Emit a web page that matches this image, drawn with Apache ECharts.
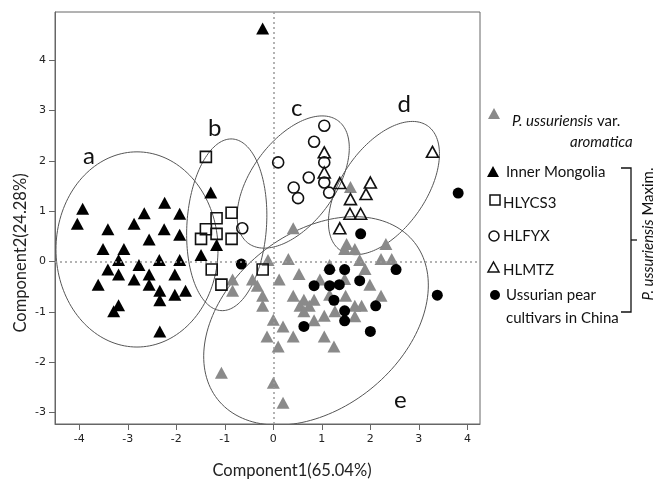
<!DOCTYPE html>
<html><head><meta charset="utf-8">
<script src="https://cdn.jsdelivr.net/npm/echarts@6/dist/echarts.min.js"></script>
<style>html,body{margin:0;padding:0;background:#fff}#c{width:667px;height:483px}</style>
</head><body><div id="c"></div>
<script>
const xTicks = [-4,-3,-2,-1,0,1,2,3,4];
const yTicks = [-3,-2,-1,0,1,2,3,4];

const aromatica = [[0.41,0.66],[1.59,1.48],[1.51,0.35],[2.32,0.35],[1.47,0.25],[1.68,0.25],[0.31,0.05],[-0.11,0.03],[1.78,0.03],[2.22,0.05],[2.44,0.05],[1.16,-0.07],[1.89,-0.15],[0.53,-0.25],[0.12,-0.36],[-0.43,-0.36],[-0.84,-0.36],[0.96,-0.36],[1.47,-0.35],[1.99,-0.46],[-0.84,-0.58],[-0.33,-0.48],[-0.22,-0.68],[-0.22,-0.88],[0.41,-0.68],[0.63,-0.76],[0.84,-0.76],[1.16,-0.66],[1.49,-0.68],[2.22,-0.68],[0.55,-0.88],[0.74,-0.88],[0.63,-0.99],[1.05,-1.08],[1.27,-0.99],[1.68,-0.88],[1.82,-0.88],[1.68,-1.09],[0.84,-1.17],[0.00,-1.16],[0.20,-1.29],[0.41,-1.49],[-0.13,-1.49],[1.05,-1.49],[0.10,-1.69],[1.25,-1.69],[-1.07,-2.21],[0.00,-2.41],[0.20,-2.81]];
const innerMongolia = [[-3.93,1.05],[-4.04,0.75],[-3.41,0.64],[-2.87,0.75],[-2.66,0.96],[-2.24,1.17],[-1.93,0.95],[-2.25,0.64],[-1.93,0.53],[-2.56,0.44],[-3.51,0.25],[-3.08,0.25],[-3.19,0.03],[-2.77,-0.07],[-2.35,0.03],[-1.93,0.03],[-3.41,-0.16],[-3.19,-0.26],[-2.87,-0.36],[-2.56,-0.26],[-2.56,-0.46],[-2.03,-0.26],[-3.61,-0.46],[-2.34,-0.58],[-2.34,-0.77],[-2.03,-0.66],[-1.81,-0.58],[-3.19,-0.87],[-3.29,-0.99],[-2.34,-1.39],[-1.29,1.37],[-1.17,0.33],[-1.49,0.13],[-0.22,4.63]];
const hlycs3 = [[-1.39,2.08],[-0.86,0.97],[-1.17,0.86],[-1.39,0.64],[-1.17,0.55],[-1.49,0.45],[-0.86,0.45],[-1.27,-0.16],[-1.07,-0.46],[-0.22,-0.16]];
const hlfyx = [[1.05,2.70],[0.84,2.38],[0.10,1.97],[1.05,1.97],[0.73,1.67],[1.05,1.57],[0.42,1.47],[1.15,1.37],[0.51,1.26],[-0.64,0.66]];
const hlmtz = [[1.05,2.17],[1.05,1.77],[1.37,1.56],[2.00,1.57],[1.59,1.24],[1.91,1.34],[1.58,0.95],[1.80,0.95],[1.37,0.66],[3.28,2.18]];
const cultivars = [[3.81,1.36],[1.80,0.55],[-0.66,-0.05],[1.16,-0.16],[1.47,-0.16],[2.53,-0.16],[1.78,-0.38],[0.84,-0.48],[1.16,-0.48],[1.36,-0.46],[1.25,-0.77],[3.38,-0.67],[2.11,-0.88],[1.47,-0.98],[1.47,-1.18],[0.63,-1.29],[2.00,-1.39]];

const ellipseNames = ['a','b','c','d','e'];
const ellipseCx = [-2.81,-0.96,0.41,2.28,0.88];
const ellipseCy = [0.24,0.73,1.58,1.46,-1.18];
const ellipseA = [1.67,0.82,1.53,1.53,2.56];
const ellipseB = [1.94,1.71,0.85,0.85,1.76];
const ellipseAngle = [0,-4,52,53,36];
const letterX = [-3.80,-1.21,0.48,2.70,2.62];
const letterY = [2.10,2.65,3.04,3.13,-2.76];

const FONT = 'Lato, "Open Sans", sans-serif';
const chart = echarts.init(document.getElementById('c'));

function pointSeries(name, data, symbol, size, color, hollow, z) {
  return {
    name, type: 'scatter', data, symbol, symbolSize: size, z,
    itemStyle: hollow ? {color: 'rgba(0,0,0,0)', borderColor: '#111', borderWidth: 1.6, opacity: 1}
                      : {color, opacity: 1},
    silent: true
  };
}

chart.setOption({
  animation: false,
  grid: {left: 55, right: 187, top: 12, bottom: 59, show: true, borderColor: '#666', borderWidth: 1},
  xAxis: {
    type: 'value', min: -4.5, max: 4.26,
    splitLine: {show: false},
    axisLine: {show: true, onZero: false, lineStyle: {color: '#666'}},
    axisTick: {show: true, length: 6, lineStyle: {color: '#666'}, customValues: xTicks},
    axisLabel: {customValues: xTicks, color: '#222', fontSize: 11, fontFamily: 'DejaVu Sans', margin: 10}
  },
  yAxis: {
    type: 'value', min: -3.23, max: 4.96,
    splitLine: {show: false},
    axisLine: {show: true, onZero: false, lineStyle: {color: '#666'}},
    axisTick: {show: true, length: 6, lineStyle: {color: '#666'}, customValues: yTicks},
    axisLabel: {customValues: yTicks, color: '#222', fontSize: 11, fontFamily: 'DejaVu Sans', margin: 9}
  },
  series: [
    {
      type: 'custom', z: 1, silent: true, clip: true,
      data: ellipseCx.map((c, i) => [c, ellipseCy[i]]),
      encode: {x: 0, y: 1},
      renderItem: function (params, api) {
        const i = params.dataIndex;
        const cx = api.value(0), cy = api.value(1);
        const a = ellipseA[i], b = ellipseB[i], phi = ellipseAngle[i] * Math.PI / 180;
        const pts = [];
        for (let k = 0; k < 160; k++) {
          const t = k / 160 * 2 * Math.PI;
          const dx = a * Math.cos(t) * Math.cos(phi) - b * Math.sin(t) * Math.sin(phi);
          const dy = a * Math.cos(t) * Math.sin(phi) + b * Math.sin(t) * Math.cos(phi);
          pts.push(api.coord([cx + dx, cy + dy]));
        }
        return {type: 'polygon', shape: {points: pts}, style: {fill: 'none', stroke: '#555', lineWidth: 1}};
      },
      markLine: {
        silent: true, symbol: 'none', label: {show: false},
        lineStyle: {color: '#9a9a9a', type: [2, 3], width: 1.5},
        data: [{xAxis: 0}, {yAxis: 0}]
      }
    },
    {
      type: 'custom', z: 2, silent: true,
      data: letterX.map((x, i) => [x, letterY[i]]),
      encode: {x: 0, y: 1},
      renderItem: function (params, api) {
        const p = api.coord([api.value(0), api.value(1)]);
        return {type: 'text', x: p[0], y: p[1],
          style: {text: ellipseNames[params.dataIndex], fontSize: 24, fontFamily: FONT, fill: '#111', align: 'center', verticalAlign: 'middle'}};
      }
    },
    pointSeries('aromatica', aromatica, 'triangle', [13, 12], '#8a8a8a', false, 3),
    pointSeries('Inner Mongolia', innerMongolia, 'triangle', [13, 12], '#000', false, 4),
    pointSeries('HLYCS3', hlycs3, 'rect', 11, null, true, 5),
    pointSeries('HLFYX', hlfyx, 'circle', 11, null, true, 5),
    pointSeries('HLMTZ', hlmtz, 'triangle', [12, 11], null, true, 5),
    pointSeries('Ussurian pear cultivars in China', cultivars, 'circle', 11, '#000', false, 4)
  ],
  graphic: [
    {type: 'text', x: 21, y: 253, rotation: Math.PI / 2,
      style: {text: 'Component2(24.28%)', fontSize: 16.5, fontFamily: FONT, fill: '#222', align: 'center', verticalAlign: 'middle'}},
    {type: 'text', x: 292, y: 471,
      style: {text: 'Component1(65.04%)', fontSize: 16.5, fontFamily: FONT, fill: '#222', align: 'center', verticalAlign: 'middle'}},
    // legend
    {type: 'polygon', shape: {points: [[488, 119], [500, 119], [494, 108]]}, style: {fill: '#8a8a8a'}},
    {type: 'text', x: 512, y: 121, style: {text: '{i|P. ussuriensis} var.', fontSize: 15, fontFamily: FONT, fill: '#111', verticalAlign: 'middle',
      rich: {i: {fontStyle: 'italic', fontSize: 15, fontFamily: FONT, fill: '#111'}}}},
    {type: 'text', x: 570, y: 142, style: {text: 'aromatica', fontStyle: 'italic', fontSize: 15, fontFamily: FONT, fill: '#111', verticalAlign: 'middle'}},
    {type: 'polygon', shape: {points: [[487, 177], [499, 177], [493, 166]]}, style: {fill: '#000'}},
    {type: 'text', x: 506, y: 172, style: {text: 'Inner Mongolia', fontSize: 15, fontFamily: FONT, fill: '#111', verticalAlign: 'middle'}},
    {type: 'rect', shape: {x: 490, y: 195, width: 10, height: 10}, style: {fill: 'none', stroke: '#111', lineWidth: 1.5}},
    {type: 'text', x: 503, y: 203, style: {text: 'HLYCS3', fontSize: 15, fontFamily: FONT, fill: '#111', verticalAlign: 'middle'}},
    {type: 'circle', shape: {cx: 494, cy: 236, r: 5}, style: {fill: 'none', stroke: '#111', lineWidth: 1.5}},
    {type: 'text', x: 503, y: 236, style: {text: 'HLFYX', fontSize: 15, fontFamily: FONT, fill: '#111', verticalAlign: 'middle'}},
    {type: 'polygon', shape: {points: [[488, 272], [499, 272], [493.5, 262]]}, style: {fill: 'none', stroke: '#111', lineWidth: 1.5}},
    {type: 'text', x: 503, y: 270, style: {text: 'HLMTZ', fontSize: 15, fontFamily: FONT, fill: '#111', verticalAlign: 'middle'}},
    {type: 'circle', shape: {cx: 495, cy: 295, r: 5}, style: {fill: '#000'}},
    {type: 'text', x: 506, y: 295, style: {text: 'Ussurian pear', fontSize: 15, fontFamily: FONT, fill: '#111', verticalAlign: 'middle'}},
    {type: 'text', x: 506, y: 318, style: {text: 'cultivars in China', fontSize: 15, fontFamily: FONT, fill: '#111', verticalAlign: 'middle'}},
    // bracket
    {type: 'polyline', shape: {points: [[621, 168], [631, 168], [631, 312], [621, 312]]}, style: {stroke: '#111', lineWidth: 1.3, fill: 'none'}},
    {type: 'line', shape: {x1: 631, y1: 240, x2: 637, y2: 240}, style: {stroke: '#111', lineWidth: 1.3}},
    {type: 'text', x: 648, y: 234, rotation: Math.PI / 2,
      style: {text: '{i|P. ussuriensis} Maxim.', fontSize: 15, fontFamily: FONT, fill: '#111', align: 'center', verticalAlign: 'middle',
        rich: {i: {fontStyle: 'italic', fontSize: 15, fontFamily: FONT, fill: '#111'}}}}
  ]
});
</script></body></html>
